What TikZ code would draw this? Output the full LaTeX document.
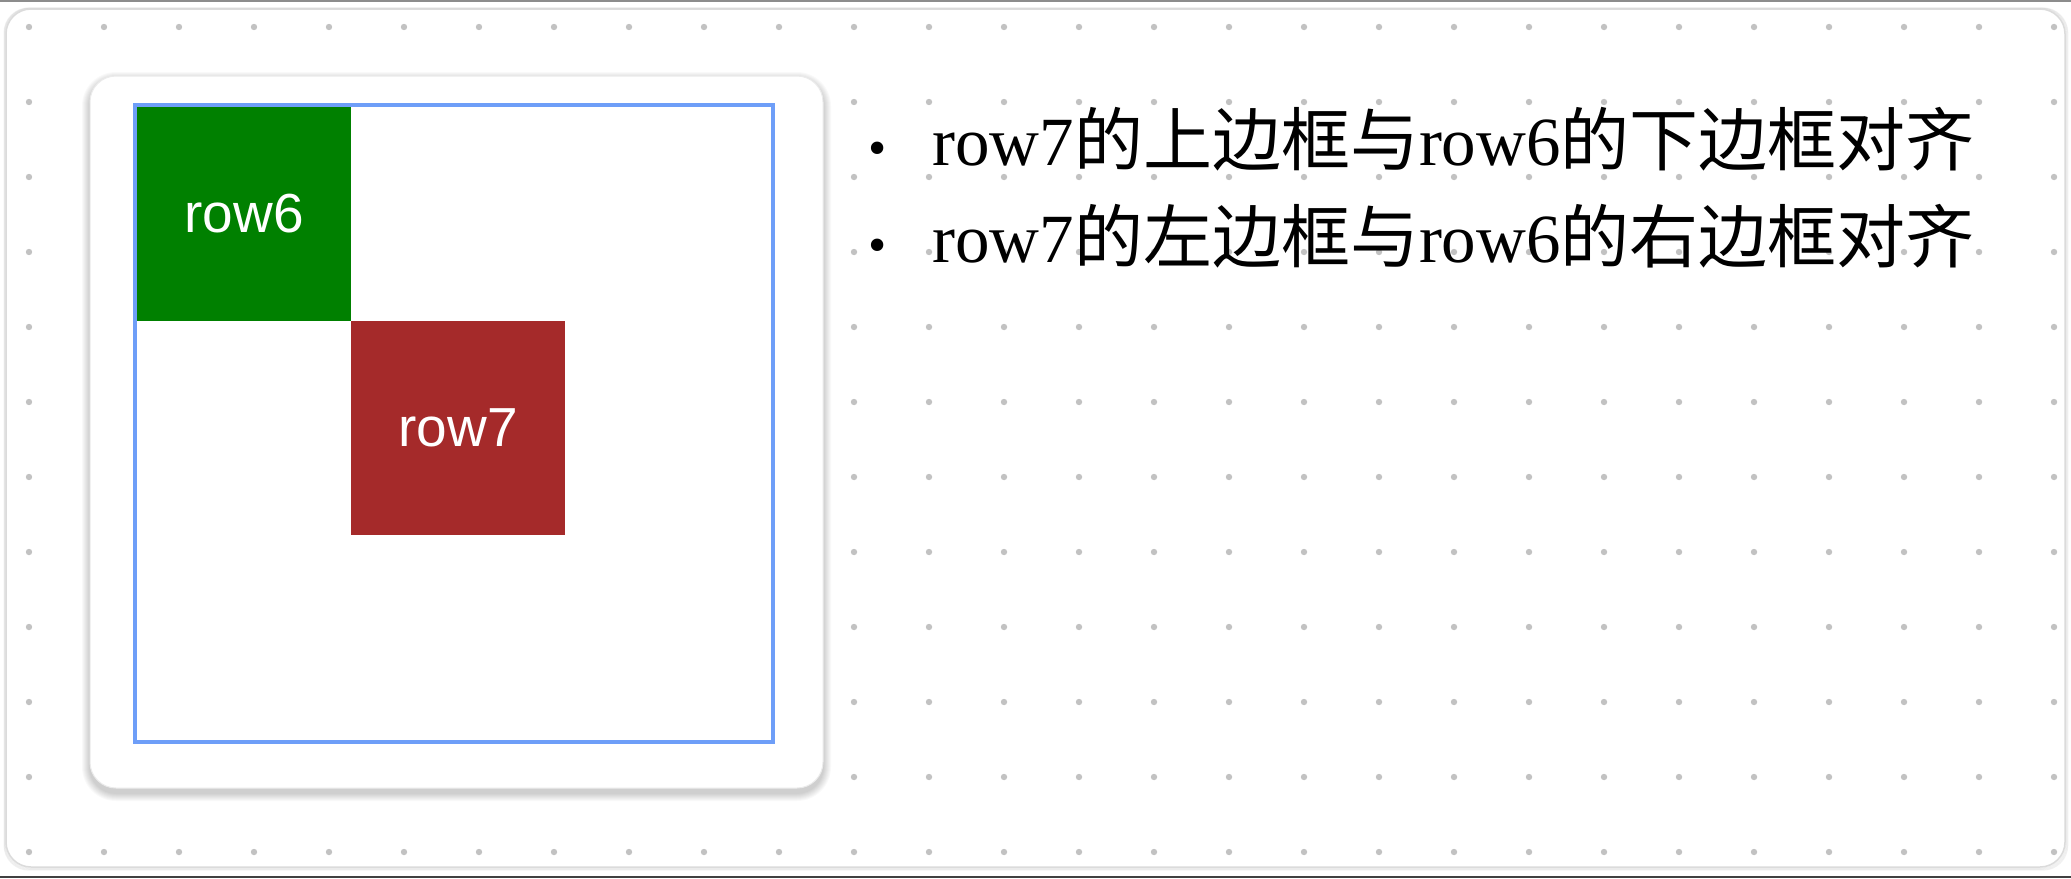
\documentclass[tikz,border=0pt]{standalone}
\usepackage{fontspec}
\setmainfont{Liberation Serif}
\newfontfamily\cjk{Noto Sans CJK SC}
\newfontfamily\lsans{Liberation Sans}
\definecolor{dotgray}{HTML}{C2C2C2}
\definecolor{boxblue}{HTML}{6E9EF8}
\definecolor{sqgreen}{HTML}{008000}
\definecolor{sqred}{HTML}{A52A2A}
\begin{document}
\begin{tikzpicture}[x=1pt,y=-1pt,
  sq/.style={minimum size=214pt, inner sep=0pt, outer sep=0pt, text=white,
    font=\lsans\fontsize{55}{62}\selectfont},
  itemtext/.style={inner sep=0pt, anchor=base west, font=\fontsize{69}{80}\selectfont},
  bulletmark/.style={inner sep=0pt, anchor=base, font=\fontsize{52}{60}\selectfont},
  container/.style={draw=boxblue, line width=3.5pt, minimum width=638pt, minimum height=637pt, inner sep=0pt}]
\useasboundingbox (0,0) rectangle (2071,878);
\fill[white] (0,0) rectangle (2071,878);
% screen edges
\draw[black!45, line width=1.5pt] (0,0.75) -- (2071,0.75);
\draw[black!75, line width=2pt] (0,877) -- (2071,877);
% outer frame with soft shadow
\foreach \i in {1,...,4}{
  \draw[black, opacity=0.05, line width=1pt, rounded corners=25pt]
    (6-\i*0.5,9-\i*0.3) rectangle (2065+\i*0.7,867+\i*0.8);
}
\filldraw[fill=white, draw=black!14, line width=1.5pt, rounded corners=25pt] (6,9) rectangle (2065,867);
% dot grid
\foreach \cx in {0,...,27}{
  \foreach \cy in {0,...,11}{
    \fill[dotgray] (29+75*\cx,27+75*\cy) circle (3.2pt);
  }
}
% inner card shadow
\foreach \i in {1,...,8}{
  \fill[black, opacity=0.022, rounded corners=26pt+\i pt]
    (90-\i,80-\i) rectangle (823+\i,793+\i);
}
\filldraw[fill=white, draw=black!8, line width=1pt, rounded corners=26pt] (90,76) rectangle (823,788);
% squares
\node[sq, fill=sqgreen] (row6) at (244,213.5) {row6};
\node[sq, fill=sqred, anchor=north west] (row7) at (row6.south east) {row7};
\node[container] (box) at (454,423.5) {};
% bullet list
\node[bulletmark] (b1) at (878,165) {•};
\node[itemtext] (t1) at (932,165) {row7{\cjk 的上边框与}row6{\cjk 的下边框对齐}};
\node[bulletmark] (b2) at (878,262) {•};
\node[itemtext] (t2) at (932,262) {row7{\cjk 的左边框与}row6{\cjk 的右边框对齐}};
\end{tikzpicture}
\end{document}
